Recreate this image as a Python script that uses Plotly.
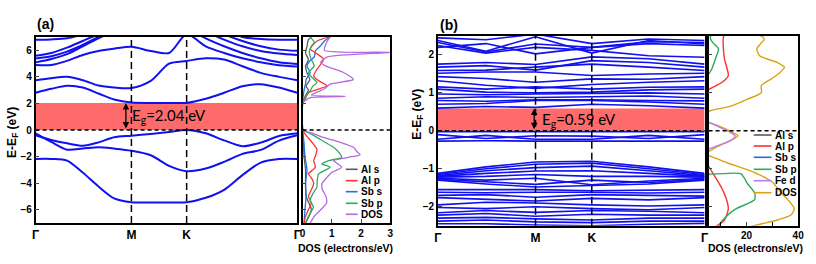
import plotly.graph_objects as go

W, H = 816, 264

# ---------------- data: panel (a) ----------------
k_a = [0.0, 0.06, 0.12, 0.18, 0.24, 0.30, 0.366, 0.44, 0.51, 0.577, 0.65, 0.72, 0.79, 0.86, 0.93, 1.0]
hs_ticks = [0.0, 0.366, 0.577, 1.0]
hs_labels = ["Γ", "M", "K", "Γ"]
gap_a = 2.04
gap_b = 0.59

band_a_v1 = [-2.18, -2.18, -2.30, -3.20, -4.25, -5.15, -5.44, -5.46, -5.45, -5.44, -5.10, -4.50, -3.40, -2.45, -2.18, -2.18]
band_a_v2 = [-0.25, -0.90, -1.48, -1.40, -1.30, -1.40, -1.56, -1.90, -2.70, -3.10, -2.90, -2.40, -1.80, -1.50, -0.80, -0.40]
band_a_v3 = [-0.40, -0.75, -1.00, -1.18, -0.93, -0.55, -0.43, -0.30, -0.15, 0.00, -0.25, -0.78, -1.22, -0.95, -0.45, -0.25]
band_a_c1 = [2.80, 3.10, 3.33, 3.20, 2.75, 2.30, 2.07, 2.04, 2.04, 2.04, 2.35, 2.80, 3.30, 3.45, 3.20, 2.80]
band_a_c2 = [3.75, 3.90, 4.00, 3.75, 3.35, 3.20, 3.16, 3.70, 5.00, 5.20, 5.40, 5.30, 4.80, 4.30, 4.00, 3.75]
band_a_c3 = [4.89, 4.89, 5.20, 5.65, 5.95, 6.12, 6.26, 5.95, 5.80, 7.20, 6.30, 5.80, 5.40, 5.10, 4.88, 4.78]
band_a_c4 = [5.09, 5.35, 5.71, 6.30, 6.90, 7.40, 7.80, 7.90, 7.90, 7.60, 6.90, 6.30, 5.80, 5.40, 5.10, 4.96]
band_a_c5 = [5.39, 5.55, 5.90, 6.40, 7.00, 7.50, 7.90, 7.90, 7.90, 7.90, 7.40, 6.80, 6.30, 5.95, 5.75, 5.64]
band_a_c6 = [5.59, 5.80, 6.20, 6.70, 7.20, 7.60, 7.90, 7.90, 7.90, 7.90, 7.80, 7.20, 6.70, 6.30, 6.05, 5.96]
band_a_c7 = [6.80, 6.82, 6.90, 7.20, 7.60, 7.90, 7.90, 7.90, 7.90, 7.90, 7.90, 7.60, 7.00, 6.85, 6.80, 6.80]
bands_a = [band_a_v1, band_a_v2, band_a_v3, band_a_c1, band_a_c2, band_a_c3,
           band_a_c4, band_a_c5, band_a_c6, band_a_c7]

dos_a_total_E = [-7.0, -6.5, -6.0, -5.5, -5.0, -4.5, -4.06, -3.6, -3.2, -2.8, -2.55, -2.3, -2.05, -1.86, -1.6, -1.3, -0.9, -0.55, -0.25, 0.0,
                 1.95, 2.2, 2.45, 2.53, 2.62, 2.9, 3.1, 3.45, 3.8, 4.33, 4.83, 5.1, 5.5, 5.84, 6.0, 6.5, 7.0]
dos_a_total_v = [0.26, 0.40, 0.62, 0.82, 0.80, 0.68, 0.66, 0.82, 1.00, 1.34, 1.20, 1.06, 1.60, 1.97, 1.85, 1.74, 1.25, 0.71, 0.35, 0.02,
                 0.0, 0.08, 0.30, 1.46, 0.30, 0.55, 0.75, 0.94, 1.74, 1.40, 0.78, 0.62, 0.85, 3.0, 0.75, 0.80, 0.94]
dos_a_sbp_E = [-7.0, -6.5, -5.8, -5.3, -4.8, -4.3, -3.8, -3.3, -2.8, -2.56, -2.3, -2.06, -1.7, -1.3, -0.9, -0.5, -0.2, 0.0,
               2.0, 2.5, 2.95, 3.3, 3.58, 3.9, 4.3, 4.83, 5.3, 5.84, 6.3, 6.6, 7.0]
dos_a_sbp_v = [0.10, 0.20, 0.37, 0.26, 0.35, 0.49, 0.50, 0.55, 0.94, 0.66, 0.90, 1.34, 1.25, 1.06, 0.75, 0.45, 0.20, 0.02,
               0.0, 0.10, 0.26, 0.35, 0.49, 0.35, 0.20, 0.40, 0.30, 0.23, 0.30, 0.40, 0.26]
dos_a_alp_E = [-7.0, -6.5, -6.0, -5.5, -5.0, -4.5, -4.0, -3.6, -3.3, -3.0, -2.8, -2.3, -1.9, -1.43, -1.0, -0.6, -0.3, 0.0,
               2.0, 2.4, 2.8, 3.33, 3.7, 4.08, 4.6, 5.33, 5.8, 6.1, 6.4, 6.7, 7.0]
dos_a_alp_v = [0.05, 0.10, 0.20, 0.30, 0.20, 0.30, 0.38, 0.30, 0.20, 0.35, 0.44, 0.38, 0.45, 0.49, 0.35, 0.20, 0.08, 0.0,
               0.0, 0.10, 0.20, 0.83, 0.55, 0.38, 0.50, 0.72, 0.45, 0.26, 0.35, 0.50, 0.90]
dos_a_sbs_E = [-7.0, -6.0, -5.0, -4.0, -3.0, -2.0, -1.0, 0.0, 2.0, 3.0, 3.5, 3.8, 4.33, 4.8, 5.2, 5.5, 6.0, 6.3, 6.7, 7.0]
dos_a_sbs_v = [0.05, 0.08, 0.12, 0.10, 0.15, 0.08, 0.05, 0.0, 0.0, 0.05, 0.10, 0.12, 0.26, 0.15, 0.25, 0.40, 0.45, 0.60, 0.75, 0.95]
dos_a_als_E = [-7.0, -6.0, -5.0, -4.0, -3.0, -2.0, -1.0, 0.0, 2.0, 2.6, 3.0, 3.3, 3.8, 4.3, 4.8, 5.3, 5.8, 6.3, 6.8, 7.0]
dos_a_als_v = [0.10, 0.30, 0.12, 0.10, 0.10, 0.05, 0.03, 0.0, 0.0, 0.10, 0.20, 0.12, 0.25, 0.15, 0.10, 0.20, 0.10, 0.15, 0.20, 0.30]

# ---------------- data: panel (b) ----------------
k_b = [0.0, 0.18, 0.366, 0.577, 0.79, 1.0]
bands_b = [
    [-0.02, -0.02, -0.02, -0.02, -0.02, -0.02],
    [-0.10, -0.20, -0.13, -0.14, -0.20, -0.10],
    [-0.22, -0.12, -0.22, -0.22, -0.12, -0.22],
    [-0.27, -0.26, -0.27, -0.27, -0.27, -0.27],
    [-1.12, -0.95, -0.82, -0.80, -0.95, -1.12],
    [-1.15, -1.00, -0.88, -0.85, -1.00, -1.15],
    [-1.18, -1.05, -0.97, -0.93, -1.05, -1.18],
    [-1.20, -1.12, -1.06, -1.05, -1.12, -1.20],
    [-1.22, -1.20, -1.15, -1.20, -1.20, -1.22],
    [-1.25, -1.30, -1.25, -1.42, -1.32, -1.25],
    [-1.28, -1.35, -1.41, -1.30, -1.36, -1.28],
    [-1.30, -1.40, -1.48, -1.45, -1.40, -1.30],
    [-1.55, -1.55, -1.55, -1.58, -1.56, -1.55],
    [-1.62, -1.63, -1.62, -1.62, -1.64, -1.62],
    [-1.70, -1.68, -1.75, -1.68, -1.70, -1.72],
    [-1.76, -1.80, -1.85, -1.78, -1.82, -1.76],
    [-1.95, -1.88, -1.90, -1.95, -1.98, -1.95],
    [-2.02, -2.05, -2.00, -2.05, -2.08, -2.02],
    [-2.16, -2.10, -2.15, -2.10, -2.12, -2.16],
    [-2.22, -2.18, -2.25, -2.20, -2.22, -2.22],
    [-2.30, -2.28, -2.32, -2.35, -2.30, -2.30],
    [-2.38, -2.35, -2.40, -2.42, -2.38, -2.38],
    [-2.45, -2.45, -2.48, -2.50, -2.46, -2.44],
    [0.60, 0.64, 0.62, 0.70, 0.66, 0.60],
    [0.70, 0.72, 0.80, 0.80, 0.76, 0.70],
    [0.80, 0.78, 0.82, 0.82, 0.80, 0.79],
    [0.86, 0.90, 0.88, 0.90, 0.92, 0.86],
    [0.97, 0.95, 0.97, 0.98, 1.00, 0.97],
    [1.10, 1.02, 1.00, 1.02, 1.08, 1.10],
    [1.16, 1.10, 1.16, 1.10, 1.15, 1.16],
    [1.32, 1.20, 1.12, 1.22, 1.28, 1.32],
    [1.43, 1.38, 1.28, 1.37, 1.36, 1.43],
    [1.52, 1.55, 1.55, 1.46, 1.50, 1.52],
    [1.59, 1.60, 1.68, 1.76, 1.68, 1.59],
    [1.68, 1.72, 1.60, 1.85, 1.80, 1.68],
    [1.76, 1.80, 1.75, 1.95, 1.90, 1.76],
    [2.25, 2.05, 2.20, 2.12, 1.98, 1.94],
    [2.33, 2.08, 2.29, 2.20, 2.30, 2.25],
    [2.38, 2.10, 2.48, 2.05, 2.38, 2.29],
    [2.45, 2.40, 2.55, 2.30, 2.42, 2.38],
    [2.20, 2.30, 2.03, 2.20, 2.35, 2.33],
]

dos_b_total_E = [-2.55, -2.45, -2.35, -2.22, -2.05, -1.85, -1.64, -1.35, -1.10, -0.84, -0.66, -0.60, -0.53, -0.44, -0.30, -0.13, 0.00, 0.13, 0.22, 0.30, 0.38, 0.46, 0.53, 0.66, 0.84, 1.01, 1.19, 1.37, 1.54, 1.68, 1.80, 1.98, 2.16, 2.30, 2.40, 2.47, 2.55]
dos_b_total_v = [20.0, 26.0, 32.0, 37.2, 38.5, 36.5, 33.5, 30.0, 23.2, 12.5, 5.8, 3.0, 5.8, 8.0, 12.5, 16.8, 13.5, 9.2, 5.4, 2.0, 1.5, 4.0, 6.0, 14.3, 20.6, 25.8, 25.7, 29.6, 33.0, 34.7, 32.0, 25.1, 24.0, 25.5, 26.8, 26.4, 24.0]
dos_b_fed_E = [-0.55, -0.48, -0.40, -0.30, -0.20, -0.13, -0.05, 0.05, 0.15, 0.24, 0.30]
dos_b_fed_v = [3.0, 5.4, 8.5, 12.5, 15.0, 15.6, 14.0, 11.0, 8.0, 5.0, 3.0]
dos_b_sbp_E = [-2.55, -2.45, -2.29, -2.07, -1.81, -1.64, -1.40, -1.13, -1.11, -0.50, 0.50, 1.40, 1.50, 1.63, 1.90, 2.16, 2.33, 2.45, 2.55]
dos_b_sbp_v = [9.5, 9.8, 11.7, 15.6, 23.2, 23.2, 20.5, 17.8, 3.0, 1.0, 1.0, 3.0, 5.4, 6.6, 8.0, 9.2, 6.9, 6.0, 6.5]
dos_b_alp_E = [-2.55, -2.35, -2.05, -1.75, -1.45, -1.15, -0.95, -0.80, 0.0, 1.0, 1.10, 1.20, 1.30, 1.46, 1.67, 1.90, 2.16, 2.40, 2.55]
dos_b_alp_v = [7.5, 11.5, 13.0, 12.0, 10.0, 7.3, 5.5, 3.5, 1.0, 3.5, 5.6, 8.5, 11.0, 13.0, 12.4, 11.5, 11.1, 11.0, 11.3]
dos_b_sbs_E = [-2.55, -1.5, -0.5, 0.5, 1.5, 2.55]
dos_b_sbs_v = [2.0, 2.5, 0.5, 0.5, 1.5, 2.0]
dos_b_als_E = [-2.55, -1.5, -0.5, 0.5, 1.5, 2.55]
dos_b_als_v = [1.0, 1.2, 0.3, 0.3, 0.8, 1.0]

legend_a_names = ["Al s", "Al p", "Sb s", "Sb p", "DOS"]
legend_b_names = ["Al s", "Al p", "Sb s", "Sb p", "Fe d", "DOS"]

# ---------------- styles ----------------
C_BAND = "#1010F0"
C_ALS = "#5a5a5a"
C_ALP = "#FF3030"
C_SBS = "#1E6FE0"
C_SBP = "#2EAA5C"
C_DOS_A = "#B36AE2"
C_FED = "#C07AE8"
C_DOS_B = "#D9A20F"
C_GAP = "#FF6B6B"
FONT = "Liberation Sans, Arial, sans-serif"

fig = go.Figure()

for b in bands_a:
    fig.add_trace(go.Scatter(x=k_a, y=b, mode="lines", line=dict(color=C_BAND, width=2, shape="spline", smoothing=0.8),
                             xaxis="x", yaxis="y", showlegend=False, hoverinfo="skip"))

dos_a = [(dos_a_als_v, dos_a_als_E, C_ALS), (dos_a_sbs_v, dos_a_sbs_E, C_SBS), (dos_a_alp_v, dos_a_alp_E, C_ALP),
         (dos_a_sbp_v, dos_a_sbp_E, C_SBP), (dos_a_total_v, dos_a_total_E, C_DOS_A)]
for v, e, c in dos_a:
    fig.add_trace(go.Scatter(x=v, y=e, mode="lines", line=dict(color=c, width=1.3, shape="spline", smoothing=0.6),
                             xaxis="x2", yaxis="y2", showlegend=False, hoverinfo="skip"))

for b in bands_b:
    fig.add_trace(go.Scatter(x=k_b, y=b, mode="lines", line=dict(color=C_BAND, width=1.6),
                             xaxis="x3", yaxis="y3", showlegend=False, hoverinfo="skip"))

dos_b = [(dos_b_als_v, dos_b_als_E, C_ALS), (dos_b_sbs_v, dos_b_sbs_E, C_SBS), (dos_b_alp_v, dos_b_alp_E, C_ALP),
         (dos_b_sbp_v, dos_b_sbp_E, C_SBP), (dos_b_total_v, dos_b_total_E, C_DOS_B), (dos_b_fed_v, dos_b_fed_E, C_FED)]
for v, e, c in dos_b:
    fig.add_trace(go.Scatter(x=v, y=e, mode="lines", line=dict(color=c, width=1.4, shape="spline", smoothing=0.6),
                             xaxis="x4", yaxis="y4", showlegend=False, hoverinfo="skip"))


def fx(p):
    return p / W


def fy(p):
    return 1 - p / H


axis_common = dict(showgrid=False, zeroline=False, showline=True, linecolor="black", linewidth=1.5, mirror=True,
                   tickfont=dict(family=FONT, size=10, color="black", weight="bold"))

dom_y_a = [fy(223), fy(37)]
dom_y_b = [fy(225.7), fy(36)]

fig.update_layout(
    width=W, height=H, margin=dict(l=0, r=0, t=0, b=0),
    paper_bgcolor="white", plot_bgcolor="white", showlegend=False,
    xaxis=dict(axis_common, domain=[fx(32), fx(297)], anchor="y", range=[0, 1], tickvals=hs_ticks, ticktext=hs_labels,
               ticks="", tickfont=dict(family=FONT, size=12, color="black", weight="bold")),
    yaxis=dict(axis_common, domain=dom_y_a, anchor="x", range=[-7, 7], tickvals=[-6, -4, -2, 0, 2, 4, 6],
               ticks="inside", ticklen=4, tickwidth=1.2),
    xaxis2=dict(axis_common, domain=[fx(302.3), fx(391)], anchor="y2", range=[0, 3], tickvals=[0, 1, 2, 3],
                ticks="inside", ticklen=4, tickwidth=1.2),
    yaxis2=dict(axis_common, domain=dom_y_a, anchor="x2", range=[-7, 7], tickvals=[-6, -4, -2, 0, 2, 4, 6],
                ticks="inside", ticklen=4, tickwidth=1.2, showticklabels=False),
    xaxis3=dict(axis_common, domain=[fx(439.3), fx(709.3)], anchor="y3", range=[0, 1], tickvals=hs_ticks,
                ticktext=hs_labels, ticks="", tickfont=dict(family=FONT, size=12, color="black", weight="bold")),
    yaxis3=dict(axis_common, domain=dom_y_b, anchor="x3", range=[-2.5, 2.5], tickvals=[-2, -1, 0, 1, 2],
                ticks="inside", ticklen=4, tickwidth=1.2),
    xaxis4=dict(axis_common, domain=[fx(713.3), fx(804)], anchor="y4", range=[5.35, 40], tickvals=[20, 40],
                ticks="inside", ticklen=4, tickwidth=1.2,
                minor=dict(tickvals=[10, 30], ticks="inside", ticklen=4, tickwidth=1.2, tickcolor="black")),
    yaxis4=dict(axis_common, domain=dom_y_b, anchor="x4", range=[-2.5, 2.5], tickvals=[-2, -1, 0, 1, 2],
                ticks="inside", ticklen=4, tickwidth=1.2, showticklabels=False),
)

shapes = []
# band gap rectangles
shapes.append(dict(type="rect", xref="x", yref="y", x0=0, x1=1, y0=0, y1=gap_a, fillcolor=C_GAP,
                   line=dict(width=0), layer="below"))
shapes.append(dict(type="rect", xref="x3", yref="y3", x0=0, x1=1, y0=0, y1=gap_b, fillcolor=C_GAP,
                   line=dict(width=0), layer="below"))
# Fermi level dashed lines
for xr, yr in [("x", "y"), ("x2", "y2"), ("x3", "y3"), ("x4", "y4")]:
    shapes.append(dict(type="line", xref=xr + " domain", yref=yr, x0=0, x1=1, y0=0, y1=0,
                       line=dict(color="black", width=1.5, dash="4px,3px")))
# high-symmetry vertical dashed lines
for xr, yr in [("x", "y"), ("x3", "y3")]:
    for kv in hs_ticks[1:3]:
        shapes.append(dict(type="line", xref=xr, yref=yr + " domain", x0=kv, x1=kv, y0=0, y1=1,
                           line=dict(color="black", width=1.5, dash="7px,4px")))

annotations = []
# arrows for the gap
annotations.append(dict(xref="x", yref="y", axref="x", ayref="y", x=0.345, y=gap_a, ax=0.345, ay=0.0, text="",
                        showarrow=True, arrowside="end+start", arrowhead=2, startarrowhead=2, arrowsize=1,
                        startarrowsize=1, arrowwidth=1.3, arrowcolor="black", standoff=0, startstandoff=0))
annotations.append(dict(xref="x3", yref="y3", axref="x3", ayref="y3", x=0.361, y=gap_b, ax=0.361, ay=0.0, text="",
                        showarrow=True, arrowside="end+start", arrowhead=2, startarrowhead=2, arrowsize=1,
                        startarrowsize=1, arrowwidth=1.3, arrowcolor="black", standoff=0, startstandoff=0))
annotations.append(dict(xref="x", yref="y", x=0.362, y=gap_a / 2, xanchor="left", yanchor="middle", showarrow=False,
                        text="E<sub>g</sub>=%.2f eV" % gap_a, font=dict(family="Lato, Open Sans, sans-serif", size=15, color="black")))
annotations.append(dict(xref="x3", yref="y3", x=0.383, y=gap_b / 2, xanchor="left", yanchor="middle", showarrow=False,
                        text="E<sub>g</sub>=%.2f eV" % gap_b, font=dict(family="Lato, Open Sans, sans-serif", size=15, color="black")))

bold = dict(family=FONT, color="black", weight="bold")
# panel labels
annotations.append(dict(xref="paper", yref="paper", x=fx(31), y=fy(24), xanchor="left", yanchor="middle",
                        showarrow=False, text="(a)", font=dict(bold, size=14)))
annotations.append(dict(xref="paper", yref="paper", x=fx(439), y=fy(25), xanchor="left", yanchor="middle",
                        showarrow=False, text="(b)", font=dict(bold, size=14)))
# y titles
annotations.append(dict(xref="paper", yref="paper", x=fx(9), y=fy(132), xanchor="center", yanchor="middle",
                        showarrow=False, textangle=-90, text="E-E<sub>F</sub> (eV)", font=dict(bold, size=12)))
annotations.append(dict(xref="paper", yref="paper", x=fx(419), y=fy(114), xanchor="center", yanchor="middle",
                        showarrow=False, textangle=-90, text="E-E<sub>F</sub> (eV)", font=dict(bold, size=12)))
# DOS x titles
annotations.append(dict(xref="paper", yref="paper", x=fx(346), y=fy(248), xanchor="center", yanchor="middle",
                        showarrow=False, text="DOS (electrons/eV)", font=dict(bold, size=10.5)))
annotations.append(dict(xref="paper", yref="paper", x=fx(761), y=fy(248), xanchor="center", yanchor="middle",
                        showarrow=False, text="DOS (electrons/eV)", font=dict(bold, size=10.5)))

# manual legends
legend_a_colors = [C_ALS, C_ALP, C_SBS, C_SBP, C_DOS_A]
legend_a_rows = [169.3, 180.7, 191.7, 203.3, 214.3]
for name, col, row in zip(legend_a_names, legend_a_colors, legend_a_rows):
    shapes.append(dict(type="line", xref="paper", yref="paper", x0=fx(346), x1=fx(358), y0=fy(row), y1=fy(row),
                       line=dict(color=col, width=1.6)))
    annotations.append(dict(xref="paper", yref="paper", x=fx(359), y=fy(row), xanchor="left", yanchor="middle",
                            showarrow=False, text=name, font=dict(bold, size=10)))

legend_b_colors = [C_ALS, C_ALP, C_SBS, C_SBP, C_FED, C_DOS_B]
legend_b_rows = [135, 146, 157.3, 169.3, 180.7, 192.7]
for name, col, row in zip(legend_b_names, legend_b_colors, legend_b_rows):
    shapes.append(dict(type="line", xref="paper", yref="paper", x0=fx(759), x1=fx(777), y0=fy(row), y1=fy(row),
                       line=dict(color=col, width=1.6)))
    annotations.append(dict(xref="paper", yref="paper", x=fx(779), y=fy(row), xanchor="left", yanchor="middle",
                            showarrow=False, text=name, font=dict(bold, size=10)))

fig.update_layout(shapes=shapes, annotations=annotations)
fig.write_html("out.html", config={"displayModeBar": False},
               post_script="document.body.style.margin='0';")
